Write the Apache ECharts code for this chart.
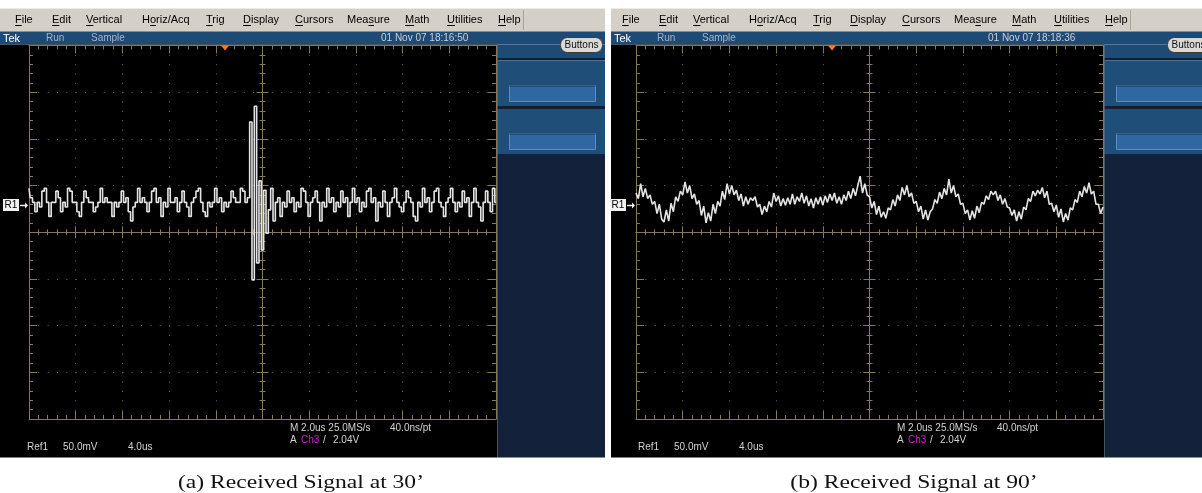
<!DOCTYPE html>
<html>
<head>
<meta charset="utf-8">
<script src="https://cdn.jsdelivr.net/npm/echarts@6/dist/echarts.min.js"></script>
<style>
html, body { margin: 0; padding: 0; background: #fff; }
#chart { width: 1202px; height: 493px; }
</style>
</head>
<body>
<div id="chart"></div>
<script>
// scope settings: 2.0us/div x 10 div, 50mV/div x 8 div, one value every 0.1us
const sampleStep = 0.1;
const timeRange = [0, 20];
const timeDiv = 2;
const mvRange = [-200, 200];
const mvDiv = 50;

const captions = ["(a) Received Signal at 30’", "(b) Received Signal at 90’"];
const timestamps = ["01 Nov 07 18:16:50", "01 Nov 07 18:18:36"];
const menuItems = ["File", "Edit", "Vertical", "Horiz/Acq", "Trig", "Display", "Cursors", "Measure", "Math", "Utilities", "Help"];
const menuHotkeys = [0, 0, 0, 1, 0, 0, 0, 3, 0, 0, 0];
const readoutTop = ["M 2.0us 25.0MS/s", "40.0ns/pt"];
const readoutTrig = ["A", "Ch3", "/", "2.04V"];
const readoutRef = ["Ref1", "50.0mV", "4.0us"];

// Ref1 trace at 30 degrees (mV)
const signal30 = [
  47, 37, 32, 22, 32, 27, 44, 47, 32, 17,
  32, 32, 44, 37, 22, 32, 27, 47, 44, 32,
  32, 22, 17, 32, 44, 37, 32, 32, 22, 27,
  32, 47, 32, 37, 32, 32, 17, 32, 27, 32,
  44, 32, 37, 22, 12, 27, 32, 47, 32, 37,
  32, 22, 32, 44, 47, 32, 37, 17, 32, 27,
  47, 32, 32, 37, 22, 32, 44, 32, 27, 17,
  32, 37, 44, 47, 32, 22, 17, 32, 27, 32,
  47, 32, 37, 22, 32, 27, 32, 44, 37, 32,
  32, 47, 44, 32, 37, 118, -51, 135, -33, 55,
  -19, 45, -1, 24, 47, 12, 32, 37, 17, 32,
  27, 44, 32, 37, 22, 32, 27, 47, 44, 32,
  17, 32, 37, 44, 32, 12, 32, 27, 47, 32,
  37, 22, 32, 27, 44, 32, 37, 17, 32, 47,
  32, 37, 22, 32, 27, 44, 47, 32, 37, 12,
  32, 27, 44, 32, 17, 32, 37, 47, 32, 27,
  22, 32, 44, 37, 32, 17, 12, 32, 27, 47,
  32, 37, 22, 32, 44, 47, 32, 27, 17, 32,
  37, 47, 32, 22, 32, 27, 44, 32, 37, 17,
  32, 47, 32, 27, 12, 32, 44, 32, 22, 47,
  32
];

// Ref1 trace at 90 degrees (mV)
const signal90 = [
  42, 36, 52, 38, 47, 36, 40, 30, 33, 20,
  30, 14, 11, 24, 12, 31, 22, 38, 33, 44,
  40, 54, 42, 50, 36, 41, 30, 34, 18, 28,
  10, 21, 12, 30, 20, 33, 28, 44, 35, 52,
  41, 50, 40, 45, 34, 41, 28, 38, 30, 37,
  34, 38, 27, 30, 19, 28, 22, 33, 27, 42,
  33, 39, 28, 36, 29, 37, 30, 41, 30, 38,
  33, 42, 31, 39, 28, 36, 26, 37, 30, 38,
  29, 39, 32, 41, 34, 42, 31, 38, 30, 40,
  34, 44, 36, 47, 39, 50, 60, 42, 52, 40,
  38, 26, 33, 19, 28, 16, 22, 15, 26, 24,
  35, 28, 40, 34, 48, 40, 50, 38, 42, 31,
  33, 22, 28, 14, 24, 13, 22, 25, 35, 31,
  43, 36, 47, 40, 57, 42, 50, 38, 41, 30,
  31, 20, 24, 13, 23, 15, 28, 21, 32, 30,
  39, 35, 44, 40, 44, 34, 40, 30, 36, 27,
  26, 18, 24, 12, 22, 14, 27, 24, 36, 33,
  44, 39, 45, 41, 48, 37, 44, 30, 31, 22,
  29, 16, 25, 11, 20, 13, 26, 24, 35, 32,
  44, 38, 49, 42, 53, 41, 44, 30, 30, 20,
  27
];

const TAN = "#87775a";
const DOT = "#6f644e";
const TRACE = "#e4e4e4";
const UI_FONT = '"Liberation Sans", Arial, sans-serif';

const panels = [
  { left: 0, right: 605, ox: 0, signal: signal30, step: "middle" },
  { left: 611, right: 1202, ox: 607, signal: signal90, step: false }
];
const GRAT = { left: 29, top: 45.5, width: 467, height: 373.5 };

const measureCtx = document.createElement("canvas").getContext("2d");
measureCtx.font = "11px " + UI_FONT;

function toPairs(values) {
  return values.map((v, i) => [+(i * sampleStep).toFixed(2), v]);
}

function axisCommon(g, isX) {
  return {
    gridIndex: g,
    type: "value",
    min: isX ? timeRange[0] : mvRange[0],
    max: isX ? timeRange[1] : mvRange[1],
    interval: isX ? timeDiv : mvDiv,
    silent: true,
    axisLabel: { show: false },
    axisLine: { onZero: false, lineStyle: { color: TAN, width: 1 } },
    axisTick: { inside: true, length: 8, lineStyle: { color: TAN } },
    minorTick: { show: true, splitNumber: 5, length: 4, lineStyle: { color: TAN } },
    splitLine: { show: false }
  };
}

const xAxis = [];
const yAxis = [];
const grid = [];
const series = [];
const graphic = [];

panels.forEach((p, g) => {
  const gl = GRAT.left + p.ox;
  grid.push({ left: gl, top: GRAT.top, width: GRAT.width, height: GRAT.height });
  const dotX = GRAT.height / 40;
  const dotY = GRAT.width / 50;

  const cx = axisCommon(g, true);
  xAxis.push(
    { ...cx, position: "bottom", splitLine: { show: true, lineStyle: { color: DOT, type: [1, dotX - 1] } } },
    { ...cx, position: "top" },
    { ...cx, position: "bottom", offset: -GRAT.height / 2,
      axisTick: { inside: true, length: 6, lineStyle: { color: TAN } },
      minorTick: { show: true, splitNumber: 5, length: 3, lineStyle: { color: TAN } } },
    { ...cx, position: "bottom", offset: -GRAT.height / 2,
      axisTick: { inside: false, length: 6, lineStyle: { color: TAN } },
      minorTick: { show: true, splitNumber: 5, length: 3, lineStyle: { color: TAN } } }
  );
  const cy = axisCommon(g, false);
  yAxis.push(
    { ...cy, position: "left", splitLine: { show: true, lineStyle: { color: DOT, type: [1, dotY - 1] } } },
    { ...cy, position: "right" },
    { ...cy, position: "left", offset: -GRAT.width / 2,
      axisTick: { inside: true, length: 6, lineStyle: { color: TAN } },
      minorTick: { show: true, splitNumber: 5, length: 3, lineStyle: { color: TAN } } },
    { ...cy, position: "left", offset: -GRAT.width / 2,
      axisTick: { inside: false, length: 6, lineStyle: { color: TAN } },
      minorTick: { show: true, splitNumber: 5, length: 3, lineStyle: { color: TAN } } }
  );

  series.push({
    type: "line",
    xAxisIndex: g * 4,
    yAxisIndex: g * 4,
    data: toPairs(p.signal),
    step: p.step,
    showSymbol: false,
    symbol: "none",
    silent: true,
    z: 5,
    lineStyle: { color: TRACE, width: 1.6 }
  });

  // --- screenshot chrome ---
  const L = p.left, R = p.right, ox = p.ox;
  const sideX = ox + 497.5;
  const rect = (x, y, w, h, style, z) =>
    graphic.push({ type: "rect", silent: true, z: z == null ? -5 : z, shape: { x, y, width: w, height: h }, style });
  const text = (x, y, str, font, fill, align, scaleX) =>
    graphic.push({ type: "text", silent: true, z: 10, x, y, scaleX: scaleX || 1,
      style: { text: str, font, fill, align: align || "left", verticalAlign: "middle" } });

  rect(L, 8, R - L, 24, { fill: "#d4d0c8" });
  rect(L, 8, R - L, 1, { fill: "#ecebe6" });
  rect(ox + 523, 10, 1, 20, { fill: "#a8a59c" });
  rect(L, 31, R - L, 1, { fill: "#8f8c84" });
  rect(L, 32, R - L, 12.5, { fill: "#1e4b75" });
  rect(L, 44.5, sideX - L, 413, { fill: "#000" });
  rect(sideX, 44.5, R - sideX, 13.5, { fill: "#1e4b75" });
  rect(sideX, 58, R - sideX, 2.5, { fill: "#0f2036" });
  rect(sideX, 60.5, R - sideX, 45.5, { fill: "#1f4e78" });
  rect(sideX, 106, R - sideX, 3, { fill: "#0f2036" });
  rect(sideX, 109, R - sideX, 45, { fill: "#1f4e78" });
  rect(sideX, 154, R - sideX, 303.5, { fill: "#13223a" });
  rect(ox + 509.5, 85.5, 86, 16, { fill: "#2f67a2", stroke: "#5d8dbf", lineWidth: 1 });
  rect(ox + 509.5, 85.5, 86, 1, { fill: "#14345a" }, -4);
  rect(ox + 509.5, 133.5, 86, 16, { fill: "#2f67a2", stroke: "#5d8dbf", lineWidth: 1 });
  rect(ox + 509.5, 133.5, 86, 1, { fill: "#14345a" }, -4);
  graphic.push({ type: "rect", silent: true, z: 8,
    shape: { x: ox + 560.5, y: 37.5, width: 42, height: 15, r: 7 },
    style: { fill: "#d9d9d6", stroke: "#3a3a3a", lineWidth: 1 } });
  text(ox + 581.5, 45, "Buttons", "10px " + UI_FONT, "#111", "center");

  // menu bar with underlined hotkeys
  const menuX = [15, 52, 86, 142, 206, 243, 295, 347, 405, 447, 498];
  menuItems.forEach((m, k) => {
    const x = ox + menuX[k];
    text(x, 19.5, m, "11px " + UI_FONT, "#000");
    const h = menuHotkeys[k];
    const x0 = x + measureCtx.measureText(m.slice(0, h)).width;
    const w = measureCtx.measureText(m.charAt(h)).width;
    rect(x0, 25, w, 1, { fill: "#000" }, 10);
  });

  // status bar
  text(L + 3, 38.5, "Tek", "11px " + UI_FONT, "#ffffff");
  text(L + 46, 38.5, "Run", "10px " + UI_FONT, "#9fb4ca");
  text(L + 91, 38.5, "Sample", "10px " + UI_FONT, "#9fb4ca");
  text(ox + 381, 38.5, timestamps[g], "10px " + UI_FONT, "#c6d0da");

  // trigger position marker
  graphic.push({ type: "polygon", silent: true, z: 10,
    shape: { points: [[ox + 221, 45.5], [ox + 229, 45.5], [ox + 225, 50.5]] },
    style: { fill: "#ff7b1c" } });

  // R1 reference marker
  rect(gl - 26, 199, 16, 12, { fill: "#f2f2f2" }, 10);
  text(gl - 18, 205.5, "R1", "10px " + UI_FONT, "#000", "center");
  graphic.push({ type: "line", silent: true, z: 10,
    shape: { x1: gl - 9, y1: 205.5, x2: gl - 2, y2: 205.5 },
    style: { stroke: "#f2f2f2", lineWidth: 1.5 } });
  graphic.push({ type: "polygon", silent: true, z: 10,
    shape: { points: [[gl - 4, 202.5], [gl - 1, 205.5], [gl - 4, 208.5]] },
    style: { fill: "#f2f2f2" } });

  // readouts
  const f10 = "10px " + UI_FONT;
  const grey = "#d2d2d2";
  text(ox + 290, 428.5, readoutTop[0], f10, grey);
  text(ox + 390, 428.5, readoutTop[1], f10, grey);
  text(ox + 290, 440.5, readoutTrig[0], f10, grey);
  text(ox + 301, 440.5, readoutTrig[1], f10, "#d21ed2");
  text(ox + 323, 440.5, readoutTrig[2], f10, grey);
  text(ox + 333, 440.5, readoutTrig[3], f10, grey);
  text(L + 27, 447, readoutRef[0], f10, grey);
  text(L + 63, 447, readoutRef[1], f10, grey);
  text(L + 128, 447, readoutRef[2], f10, grey);

  // caption
  text(g === 0 ? 301 : 914, 483.5, captions[g], '19px "Liberation Serif", "DejaVu Serif", serif', "#111", "center", 1.24);
});

const chart = echarts.init(document.getElementById("chart"));
chart.setOption({
  backgroundColor: "#ffffff",
  animation: false,
  grid,
  xAxis,
  yAxis,
  series,
  graphic
});
</script>
</body>
</html>
